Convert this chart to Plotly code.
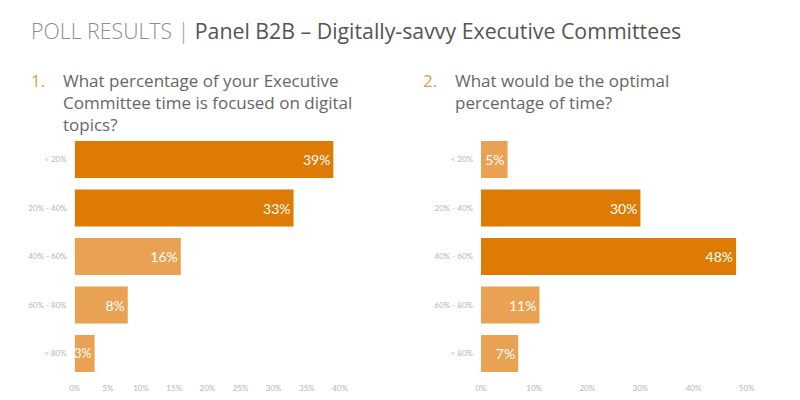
import plotly.graph_objects as go

categories = ["< 20%", "20% - 40%", "40% - 60%", "60% - 80%", "> 80%"]
q1_values = [39, 33, 16, 8, 3]
q2_values = [5, 30, 48, 11, 7]
q1_ticks = [0, 5, 10, 15, 20, 25, 30, 35, 40]
q2_ticks = [0, 10, 20, 30, 40, 50]

title_light = "POLL RESULTS"
title_bold = "Panel B2B – Digitally-savvy Executive Committees"
q1_text = "What percentage of your Executive<br>Committee time is focused on digital<br>topics?"
q2_text = "What would be the optimal<br>percentage of time?"

DARK = "#DE7B04"
LIGHT = "#E9A253"
FONT = "Lato"
QFONT = "Open Sans"
W, H = 800, 400
OFF = 8  # page body margin


def colors(vals):
    return [DARK if v >= 20 else LIGHT for v in vals]


def sizes(vals):
    return [14 if v >= 5 else 12.5 for v in vals]


def px(x):
    return (x - OFF) / W


def py(y):
    return 1 - (y - OFF) / H


fig = go.Figure()
for vals, xa, ya in [(q1_values, "x", "y"), (q2_values, "x2", "y2")]:
    fig.add_trace(go.Bar(
        x=vals, y=categories, orientation="h",
        marker=dict(color=colors(vals), line=dict(width=0)),
        text=[f"{v}%" for v in vals], textposition="inside",
        insidetextanchor="end", textangle=0, constraintext="none",
        cliponaxis=False,
        textfont=dict(family=FONT, size=sizes(vals), color="white"),
        xaxis=xa, yaxis=ya, showlegend=False, width=0.76,
    ))

ydom = [py(377.75), py(135.25)]
axis_font = dict(family=FONT, size=8, color="#b5b5b5")
common = dict(showgrid=False, zeroline=False, showline=False,
              tickfont=axis_font, ticks="", automargin=False, fixedrange=True)

fig.update_layout(
    width=W, height=H, margin=dict(l=0, r=0, t=0, b=0, autoexpand=False),
    paper_bgcolor="white", plot_bgcolor="white",
    bargap=0.24,
    xaxis=dict(domain=[px(74.7), px(340)], range=[0, 40], tickvals=q1_ticks,
               ticktext=[f"{t}%" for t in q1_ticks], ticklabelstandoff=4,
               **common),
    yaxis=dict(domain=ydom, autorange="reversed", ticklabelstandoff=7,
               **common),
    xaxis2=dict(domain=[px(481), px(746.7)], range=[0, 50], tickvals=q2_ticks,
                ticktext=[f"{t}%" for t in q2_ticks], ticklabelstandoff=4,
                anchor="y2", **common),
    yaxis2=dict(domain=ydom, autorange="reversed", ticklabelstandoff=7,
                anchor="x2", **common),
)

# faint baseline lines at 0
for xa in ["x", "x2"]:
    fig.add_shape(type="line", xref=xa, yref="paper", x0=0, x1=0,
                  y0=py(372), y1=py(140), line=dict(color="#f1f1f1", width=1),
                  layer="below")

anns = [
    dict(x=px(29), y=py(30), xanchor="left", yanchor="middle",
         text=(f"<span style='font-weight:300;color:#8c8c8c'>{title_light}</span>"
               f"<span style='font-weight:300;color:#9a9a9a'> | </span>"
               f"<span style='font-weight:500;color:#555555'>{title_bold}</span>"),
         font=dict(family=QFONT, size=21.3, color="#555555")),
    dict(x=px(29), y=py(67), xanchor="left", yanchor="top", text="1.",
         font=dict(family=QFONT, size=17, color="#E29A45")),
    dict(x=px(61), y=py(67), xanchor="left", yanchor="top", text=q1_text,
         align="left", font=dict(family=QFONT, size=17, color="#666666")),
    dict(x=px(421), y=py(67), xanchor="left", yanchor="top", text="2.",
         font=dict(family=QFONT, size=17, color="#E29A45")),
    dict(x=px(453), y=py(67), xanchor="left", yanchor="top", text=q2_text,
         align="left", font=dict(family=QFONT, size=17, color="#666666")),
]
for a in anns:
    fig.add_annotation(xref="paper", yref="paper", showarrow=False, **a)

fig.write_html("out.html")
